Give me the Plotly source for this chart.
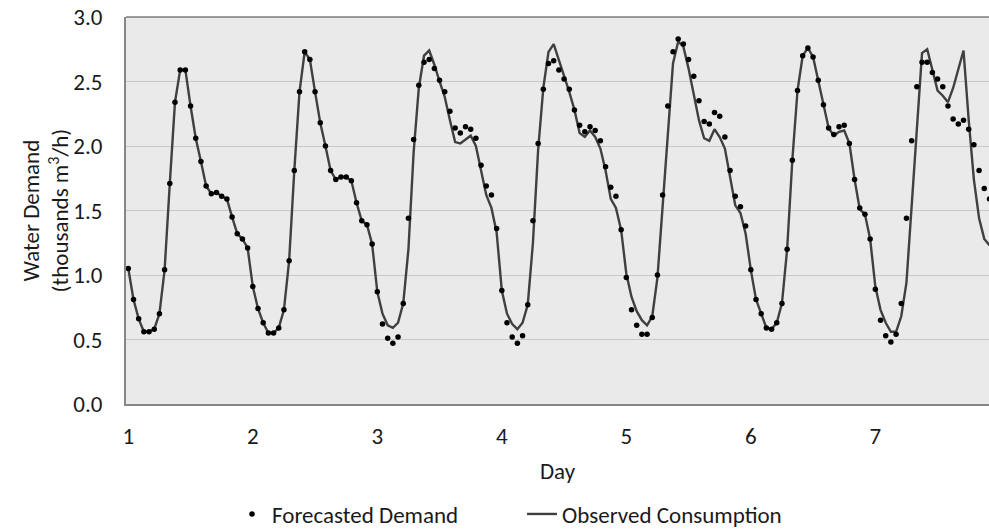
import plotly.graph_objects as go

# Hourly values (thousands m3/h), starting at Day 1 hour 0
forecast = [
    1.05, 0.81, 0.66, 0.56, 0.56, 0.58, 0.70, 1.04, 1.71, 2.34, 2.59, 2.59, 2.31, 2.06, 1.88, 1.69, 1.63, 1.64, 1.61, 1.59, 1.45, 1.32, 1.28, 1.21,
    0.91, 0.74, 0.63, 0.55, 0.55, 0.59, 0.73, 1.11, 1.81, 2.42, 2.73, 2.67, 2.42, 2.18, 2.00, 1.81, 1.74, 1.76, 1.76, 1.73, 1.56, 1.42, 1.39, 1.24,
    0.87, 0.62, 0.51, 0.47, 0.52, 0.78, 1.44, 2.05, 2.47, 2.65, 2.67, 2.60, 2.51, 2.42, 2.27, 2.14, 2.10, 2.15, 2.13, 2.06, 1.85, 1.69, 1.62, 1.36,
    0.88, 0.63, 0.52, 0.47, 0.53, 0.77, 1.42, 2.02, 2.44, 2.64, 2.66, 2.59, 2.52, 2.44, 2.28, 2.16, 2.11, 2.15, 2.12, 2.04, 1.84, 1.68, 1.61, 1.35,
    0.98, 0.73, 0.61, 0.54, 0.54, 0.67, 1.00, 1.62, 2.31, 2.73, 2.83, 2.79, 2.67, 2.54, 2.35, 2.19, 2.17, 2.26, 2.23, 2.07, 1.81, 1.61, 1.53, 1.38,
    1.04, 0.81, 0.70, 0.59, 0.58, 0.63, 0.78, 1.20, 1.89, 2.43, 2.70, 2.76, 2.69, 2.51, 2.32, 2.14, 2.09, 2.15, 2.16, 2.02, 1.74, 1.52, 1.47, 1.28,
    0.89, 0.65, 0.53, 0.48, 0.54, 0.78, 1.44, 2.04, 2.46, 2.65, 2.65, 2.57, 2.52, 2.46, 2.31, 2.21, 2.17, 2.20, 2.13, 2.01, 1.81, 1.67, 1.59,
]

observed = [
    1.05, 0.81, 0.66, 0.56, 0.56, 0.58, 0.70, 1.04, 1.71, 2.34, 2.59, 2.59, 2.31, 2.06, 1.88, 1.69, 1.63, 1.64, 1.61, 1.59, 1.45, 1.32, 1.28, 1.21,
    0.91, 0.74, 0.63, 0.55, 0.55, 0.59, 0.73, 1.11, 1.81, 2.42, 2.73, 2.67, 2.42, 2.18, 2.00, 1.81, 1.74, 1.76, 1.76, 1.73, 1.56, 1.42, 1.39, 1.24,
    0.87, 0.70, 0.61, 0.59, 0.63, 0.78, 1.20, 1.95, 2.45, 2.70, 2.74, 2.63, 2.50, 2.38, 2.20, 2.03, 2.02, 2.05, 2.08, 2.00, 1.81, 1.62, 1.52, 1.33,
    0.88, 0.70, 0.62, 0.58, 0.63, 0.77, 1.25, 1.97, 2.45, 2.73, 2.79, 2.67, 2.54, 2.42, 2.28, 2.10, 2.07, 2.12, 2.07, 1.98, 1.81, 1.59, 1.52, 1.35,
    1.01, 0.83, 0.72, 0.65, 0.61, 0.68, 0.98, 1.55, 2.15, 2.64, 2.81, 2.77, 2.60, 2.41, 2.20, 2.06, 2.04, 2.13, 2.07, 1.98, 1.76, 1.54, 1.48, 1.32,
    1.04, 0.81, 0.70, 0.59, 0.58, 0.63, 0.78, 1.20, 1.89, 2.43, 2.70, 2.76, 2.69, 2.51, 2.32, 2.14, 2.08, 2.11, 2.12, 2.02, 1.74, 1.51, 1.47, 1.28,
    0.91, 0.73, 0.63, 0.56, 0.56, 0.68, 0.94, 1.53, 2.20, 2.72, 2.75, 2.58, 2.43, 2.39, 2.34, 2.45, 2.60, 2.74, 2.20, 1.74, 1.44, 1.28, 1.23,
]

day_ticks = [1, 2, 3, 4, 5, 6, 7]
day_labels = ["1", "2", "3", "4", "5", "6", "7"]
hours_per_day = 24

x_fc = [1 + h / hours_per_day for h in range(len(forecast))]
x_ob = [1 + h / hours_per_day for h in range(len(observed))]

FONT = "Carlito, Calibri, Lato, sans-serif"
TXT = "#1a1a1a"
FS = 23

fig = go.Figure()
fig.add_trace(go.Scatter(
    x=x_ob, y=observed, mode="lines", name="Observed Consumption",
    line=dict(color="#404040", width=2.4), legendrank=2,
))
fig.add_trace(go.Scatter(
    x=x_fc, y=forecast, mode="markers", name="Forecasted Demand",
    marker=dict(color="#000000", size=5.5), legendrank=1,
))

W, H = 989, 529
L, R, T, B = 126, 0, 17, 125

fig.update_layout(
    width=W, height=H,
    margin=dict(l=L, r=R, t=T, b=B, pad=0),
    paper_bgcolor="white",
    plot_bgcolor="#EAEAEA",
    font=dict(family=FONT, size=FS, color=TXT),
    showlegend=True,
    legend=dict(
        orientation="h", xref="container", yref="container",
        x=232 / W, xanchor="left", y=1 - 514 / H, yanchor="middle",
        font=dict(size=FS, color=TXT), itemwidth=30,
        entrywidth=245, entrywidthmode="pixels",
        bgcolor="rgba(0,0,0,0)", traceorder="normal",
    ),
    xaxis=dict(
        range=[0.9815, 7.913],
        tickmode="array", tickvals=day_ticks, ticktext=day_labels,
        showgrid=False, zeroline=False,
        showline=True, linecolor="#868686", linewidth=2,
        ticks="", ticklabelstandoff=10,
        title=dict(text="Day", standoff=14, font=dict(size=FS)),
    ),
    yaxis=dict(
        range=[0, 3.0], dtick=0.5, tickformat=".1f",
        showgrid=True, gridcolor="#C8C8C8", gridwidth=1,
        zeroline=False,
        showline=True, linecolor="#868686", linewidth=2,
        ticks="", ticklabelstandoff=17,
    ),
    shapes=[dict(type="line", xref="paper", yref="paper", x0=0, x1=1, y0=1, y1=1,
                 line=dict(color="#404040", width=1.2))],
    annotations=[dict(
        xref="paper", yref="paper", x=(45 - L) / (W - L), y=0.5,
        xanchor="center", yanchor="middle", textangle=-90, showarrow=False,
        text="Water Demand<br>(thousands m<sup>3</sup>/h)",
        font=dict(size=FS, color=TXT),
    )],
)

fig.write_html("out.html")
